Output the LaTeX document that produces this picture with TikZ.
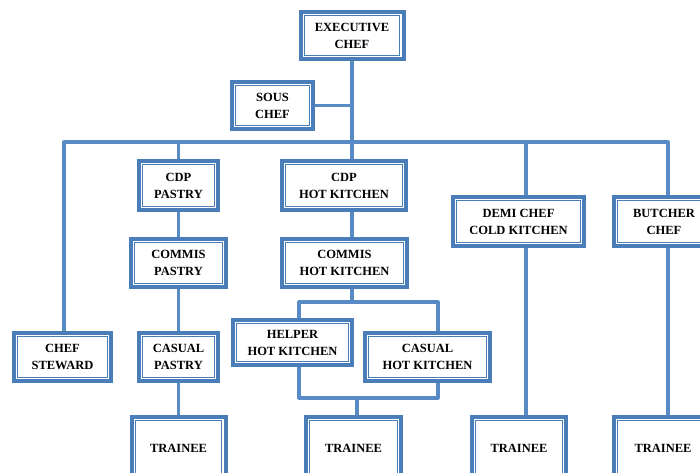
\documentclass[tikz,border=0pt]{standalone}
\usepackage{fontspec}
\setmainfont{Liberation Serif}
\usetikzlibrary{backgrounds}
\definecolor{boxblue}{RGB}{74,126,187}
\definecolor{lineblue}{RGB}{88,138,198}
\tikzset{
  ob/.style={draw=boxblue, line width=4pt, fill=white, align=center, inner sep=0pt,
    font=\bfseries\fontsize{12.5}{17}\selectfont},
  innerline/.style={draw=boxblue, line width=1.1pt},
  conn/.style={draw=lineblue, line width=3.2pt, line join=round, line cap=butt}
}
\newcommand{\obox}[6]{%
  \node[ob, minimum width=#4pt, minimum height=#5pt] (#1) at (#2,#3) {#6};
  \draw[innerline] ([shift={(5.6pt,-5.6pt)}]#1.north west) rectangle ([shift={(-5.6pt,5.6pt)}]#1.south east);
}
\begin{document}
\begin{tikzpicture}[x=1pt,y=-1pt]
\useasboundingbox (0,0) rectangle (700,472);
\obox{exec}{352}{35.5}{103}{47}{EXECUTIVE\\CHEF}
\obox{sous}{272.5}{105.5}{81}{47}{SOUS\\CHEF}
\obox{steward}{62.5}{357}{97}{48}{CHEF\\STEWARD}
\obox{cdpp}{178.5}{185.5}{79}{49}{CDP\\PASTRY}
\obox{commp}{178.5}{263}{95}{48}{COMMIS\\PASTRY}
\obox{casp}{178.5}{357}{79}{48}{CASUAL\\PASTRY}
\obox{tra}{178.5}{448}{94}{62}{TRAINEE}
\obox{cdph}{344}{185.5}{124}{49}{CDP\\HOT KITCHEN}
\obox{commh}{344.5}{263}{125}{48}{COMMIS\\HOT KITCHEN}
\obox{helper}{292.5}{342.5}{119}{45}{HELPER\\HOT KITCHEN}
\obox{cash}{427.5}{357}{125}{48}{CASUAL\\HOT KITCHEN}
\obox{trb}{353.5}{448}{95}{62}{TRAINEE}
\obox{demi}{518.5}{221.5}{131}{49}{DEMI CHEF\\COLD KITCHEN}
\obox{trc}{519}{448}{94}{62}{TRAINEE}
\obox{butcher}{664}{221.5}{100}{49}{BUTCHER\\CHEF}
\obox{trd}{663}{448}{98}{62}{TRAINEE}
\coordinate (busL) at (64,142);
\coordinate (busM) at (352,142);
\coordinate (busD) at (526,142);
\coordinate (busR) at (668,142);
\coordinate (sbL) at (299,302);
\coordinate (sbM) at (352,302);
\coordinate (sbR) at (438,302);
\coordinate (bbL) at (299,398);
\coordinate (bbM) at (357,398);
\coordinate (bbR) at (438,398);
\begin{scope}[on background layer]
\draw[conn] (exec.south) -- (busM);
\draw[conn] (sous.east) -- (sous.east -| busM);
\draw[conn] (steward.north -| busL) -- (busL) -- (busR) -- (butcher.north -| busR);
\draw[conn] (cdpp.north |- busL) -- (cdpp.north);
\draw[conn] (cdpp.south) -- (commp.north);
\draw[conn] (commp.south) -- (casp.north);
\draw[conn] (casp.south) -- (tra.north);
\draw[conn] (busM) -- (cdph.north -| busM);
\draw[conn] (cdph.south -| busM) -- (commh.north -| busM);
\draw[conn] (commh.south -| sbM) -- (sbM);
\draw[conn] (helper.north -| sbL) -- (sbL) -- (sbR) -- (cash.north -| sbR);
\draw[conn] (helper.south -| bbL) -- (bbL) -- (bbR) -- (cash.south -| bbR);
\draw[conn] (bbM) -- (trb.north -| bbM);
\draw[conn] (busD) -- (demi.north -| busD);
\draw[conn] (demi.south -| busD) -- (trc.north -| busD);
\draw[conn] (butcher.south -| busR) -- (trd.north -| busR);
\end{scope}
\end{tikzpicture}
\end{document}
